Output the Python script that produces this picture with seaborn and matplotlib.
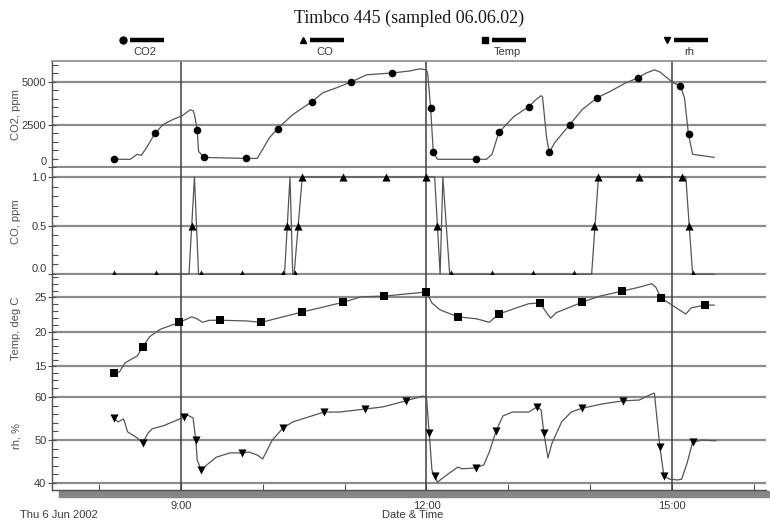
import numpy as np
import pandas as pd
import matplotlib
matplotlib.use("Agg")
import matplotlib.pyplot as plt
import matplotlib.ticker as mticker
from matplotlib.lines import Line2D
from matplotlib.patches import Rectangle
import seaborn as sns

# ---- CO2, ppm ----
co2_time = ["08:11", "08:23", "08:28", "08:31", "08:35", "08:41", "08:47", "08:54", "09:01", "09:07",
            "09:09", "09:10", "09:12", "09:13", "09:17", "09:48", "09:56", "10:05", "10:11", "10:22",
            "10:36", "10:44", "10:54", "11:05", "11:16", "11:26", "11:35", "11:48", "11:55", "12:00",
            "12:01", "12:03", "12:05", "12:08", "12:44", "12:48", "12:53", "12:57", "13:04", "13:15",
            "13:20", "13:24", "13:25", "13:28", "13:30", "13:34", "13:45", "13:54", "14:05", "14:14",
            "14:26", "14:35", "14:41", "14:47", "14:51", "14:58", "15:01", "15:06", "15:09", "15:12",
            "15:15", "15:31"]
co2_ppm = [470, 470, 760, 700, 1160, 1980, 2500, 2790, 3020, 3370,
           3310, 3080, 2210, 930, 580, 520, 520, 1740, 2270, 3080,
           3840, 4360, 4650, 5000, 5410, 5470, 5520, 5640, 5760, 5700,
           5410, 3490, 870, 470, 470, 760, 2040, 2380, 2970, 3550,
           3950, 4190, 4130, 1740, 870, 1450, 2500, 3370, 4070, 4420,
           4940, 5230, 5520, 5700, 5580, 5120, 4940, 4770, 4070, 1920,
           760, 580]
co2_mark_time = ["08:11", "08:41", "09:12", "09:17", "09:48", "10:11", "10:36", "11:05", "11:35", "12:03",
                 "12:05", "12:36", "12:53", "13:15", "13:30", "13:45", "14:05", "14:35", "15:06", "15:12"]
co2_mark_ppm = [470, 1980, 2210, 580, 520, 2270, 3840, 5000, 5520, 3490,
                870, 470, 2040, 3550, 870, 2500, 4070, 5230, 4770, 1920]

# ---- CO, ppm ----
co_time = ["08:11", "09:06", "09:10", "09:13", "10:16", "10:20", "10:22", "10:23", "10:29", "12:06",
           "12:10", "12:12", "12:17", "14:01", "14:06", "15:10", "15:15", "15:31"]
co_ppm = [0, 0, 1.0, 0, 0, 1.0, 0, 0, 1.0, 1.0,
          0, 1.0, 0, 0, 1.0, 1.0, 0, 0]
co_mark_time = ["08:11", "08:42", "09:08", "09:15", "09:45", "10:15", "10:18", "10:24", "10:26", "10:29",
                "10:59", "11:30", "12:00", "12:08", "12:18", "12:48", "13:18", "13:48", "14:03", "14:06",
                "14:36", "15:07", "15:12", "15:15"]
co_mark_ppm = [0, 0, 0.5, 0, 0, 0, 0.5, 0, 0.5, 1.0,
               1.0, 1.0, 1.0, 0.5, 0, 0, 0, 0, 0.5, 1.0,
               1.0, 1.0, 0.5, 0]

# ---- Temp, deg C ----
temp_time = ["08:11", "08:15", "08:19", "08:25", "08:28", "08:32", "08:37", "08:45", "08:52", "08:59",
             "09:08", "09:12", "09:16", "09:21", "09:29", "09:48", "09:59", "10:29", "10:59", "11:12",
             "11:29", "12:00", "12:04", "12:10", "12:23", "12:37", "12:46", "12:53", "13:06", "13:15",
             "13:23", "13:28", "13:31", "13:35", "13:54", "14:07", "14:23", "14:36", "14:45", "14:48",
             "14:52", "15:03", "15:10", "15:14", "15:24", "15:31"]
temp_c = [14.1, 14.2, 15.5, 16.2, 16.5, 17.8, 19.3, 20.4, 20.9, 21.4,
          22.2, 21.9, 21.4, 21.7, 21.7, 21.6, 21.4, 22.9, 24.3, 25.1,
          25.2, 25.8, 24.2, 23.2, 22.2, 21.9, 21.4, 22.6, 23.5, 24.1,
          24.2, 22.8, 22.0, 22.8, 24.3, 25.2, 25.9, 26.5, 27.0, 26.5,
          24.9, 23.5, 22.6, 23.5, 23.9, 23.9]
temp_mark_time = ["08:11", "08:32", "08:59", "09:29", "09:59", "10:29", "10:59", "11:29", "12:00", "12:23",
                  "12:53", "13:23", "13:54", "14:23", "14:52", "15:24"]
temp_mark_c = [14.1, 17.8, 21.4, 21.7, 21.4, 22.9, 24.3, 25.2, 25.8, 22.2,
               22.6, 24.2, 24.3, 25.9, 24.9, 23.9]

# ---- rh, % ----
rh_time = ["08:11", "08:14", "08:18", "08:19", "08:21", "08:28", "08:32", "08:36", "08:39", "08:47",
           "08:54", "09:02", "09:05", "09:09", "09:11", "09:12", "09:15", "09:19", "09:26", "09:36",
           "09:45", "09:50", "09:56", "10:00", "10:07", "10:15", "10:22", "10:45", "10:56", "11:15",
           "11:28", "11:45", "11:57", "12:00", "12:02", "12:04", "12:08", "12:15", "12:23", "12:26",
           "12:36", "12:42", "12:46", "12:51", "12:56", "13:03", "13:15", "13:21", "13:24", "13:26",
           "13:29", "13:32", "13:39", "13:46", "13:54", "14:09", "14:24", "14:36", "14:45", "14:47",
           "14:48", "14:51", "14:54", "14:58", "15:04", "15:07", "15:11", "15:15", "15:22", "15:32"]
rh_pct = [55.1, 54.2, 54.9, 54.0, 51.9, 50.5, 49.3, 51.6, 52.6, 53.3,
          54.2, 55.3, 55.8, 55.1, 50.0, 45.3, 43.0, 44.2, 46.0, 47.0,
          47.0, 47.2, 46.5, 45.6, 50.0, 52.8, 54.2, 56.5, 56.5, 57.2,
          57.7, 59.1, 60.2, 60.0, 51.6, 43.0, 40.2, 41.9, 43.7, 43.3,
          43.5, 44.2, 47.2, 52.1, 55.6, 56.5, 56.5, 57.7, 57.0, 51.6,
          45.8, 49.3, 54.2, 56.5, 57.4, 58.4, 59.1, 59.3, 60.7, 60.9,
          57.7, 48.4, 41.6, 40.9, 40.7, 40.9, 44.7, 49.5, 50.0, 49.8]
rh_mark_time = ["08:11", "08:32", "09:02", "09:11", "09:15", "09:45", "10:15", "10:45", "11:15", "11:45",
                "12:02", "12:06", "12:36", "12:51", "13:21", "13:26", "13:54", "14:24", "14:51", "14:54",
                "15:15"]
rh_mark_pct = [55.1, 49.3, 55.3, 50.0, 43.0, 47.0, 52.8, 56.5, 57.2, 59.1,
               51.6, 41.6, 43.5, 52.1, 57.7, 51.6, 57.4, 59.1, 48.4, 41.6,
               49.5]


def to_hours(ts):
    return [int(t[:2]) + int(t[3:]) / 60 for t in ts]


sns.set_theme(style="white")
plt.rcParams["font.family"] = ["Liberation Sans", "DejaVu Sans"]

fig = plt.figure(figsize=(7.7, 5.21), dpi=100)
W, H = 770, 521
left, right = 52 / W, 766 / W
bounds = [(61, 168), (168, 275), (275, 382), (382, 490)]
axes = [fig.add_axes([left, 1 - b / H, right - left, (b - t) / H]) for t, b in bounds]

panels = [
    (co2_time, co2_ppm, co2_mark_time, co2_mark_ppm, "o", 30, "CO2, ppm", (-40, 6220), 2500, 500),
    (co_time, co_ppm, co_mark_time, co_mark_ppm, "^", 34, "CO, ppm", (-0.008, 1.092), 0.5, 0.1),
    (temp_time, temp_c, temp_mark_time, temp_mark_c, "s", 28, "Temp, deg C", (12.75, 28.26), 5, 1),
    (rh_time, rh_pct, rh_mark_time, rh_mark_pct, "v", 34, "rh, %", (38.37, 63.49), 10, 2),
]
line_col = "#555555"
txt_col = "#3a3a3a"

for ax, (t, v, mt, mv, mk, ms, lab, ylim, major, minor) in zip(axes, panels):
    ax.set_facecolor("white")
    sns.lineplot(x=to_hours(t), y=v, ax=ax, color=line_col, lw=0.9,
                 estimator=None, sort=False, zorder=3)
    sns.scatterplot(x=to_hours(mt), y=mv, ax=ax, marker=mk, s=ms, color="black",
                    edgecolor="black", linewidth=0, zorder=4)
    ax.set_xlim(7.427, 16.146)
    ax.set_ylim(*ylim)
    ax.yaxis.set_major_locator(mticker.MultipleLocator(major))
    ax.yaxis.set_minor_locator(mticker.MultipleLocator(minor))
    ax.grid(axis="y", which="major", color="#8c8c8c", lw=1.6, zorder=1)
    ax.grid(axis="x", visible=False)
    for h in (9, 12, 15):
        ax.axvline(h, color="#404040", lw=1.1, zorder=2)
    for s in ("top", "right", "bottom"):
        ax.spines[s].set_visible(False)
    ax.spines["left"].set_color("#505050")
    ax.spines["left"].set_linewidth(1.0)
    ax.tick_params(axis="y", which="major", direction="inout", length=6, width=0.8,
                   colors="#505050", labelcolor=txt_col, labelsize=8, pad=1, left=True)
    ax.tick_params(axis="y", which="minor", direction="in", length=4, width=0.8,
                   colors="#505050", left=True)
    ax.set_ylabel(lab, fontsize=8, color="#505050")
    ax.yaxis.set_label_coords(-0.043, 0.5)
    ax.tick_params(axis="x", which="both", bottom=False, labelbottom=False)

axes[0].yaxis.set_major_formatter(mticker.FuncFormatter(lambda v, p: f"{v:.0f}"))
axes[1].yaxis.set_major_formatter(mticker.FuncFormatter(lambda v, p: f"{v:.1f}"))
axes[2].yaxis.set_major_formatter(mticker.FuncFormatter(lambda v, p: f"{v:.0f}"))
axes[3].yaxis.set_major_formatter(mticker.FuncFormatter(lambda v, p: f"{v:.0f}"))
fig.canvas.draw()
for ax in axes[:2]:
    for lbl in ax.get_yticklabels():
        if abs(lbl.get_position()[1]) < 1e-9:
            lbl.set_verticalalignment("bottom")

# top border line
axes[0].spines["top"].set_visible(True)
axes[0].spines["top"].set_color("#8c8c8c")
axes[0].spines["top"].set_linewidth(1.2)

# time axis at the bottom
ax = axes[3]
ax.spines["bottom"].set_visible(True)
ax.spines["bottom"].set_color("#505050")
ax.spines["bottom"].set_linewidth(1.0)
ax.xaxis.set_major_locator(mticker.FixedLocator([9, 12, 15]))
ax.xaxis.set_minor_locator(mticker.MultipleLocator(1))
ax.xaxis.set_major_formatter(mticker.FuncFormatter(lambda v, p: f"{int(round(v))}:00"))
ax.tick_params(axis="x", which="both", bottom=True, labelbottom=True, direction="in",
               length=4, width=0.8, colors="#505050", labelcolor=txt_col, labelsize=8, pad=8)
fig.add_artist(Rectangle((59 / W, 1 - 497 / H), (W - 59) / W, 6 / H,
                         transform=fig.transFigure, color="#858585", zorder=0))
fig.text(20 / W, 1 - 515 / H, "Thu 6 Jun 2002", fontsize=8, color=txt_col, va="center")
fig.text(413 / W, 1 - 515 / H, "Date & Time", fontsize=8, color=txt_col, va="center", ha="center")

# title and legend header
fig.text(409 / W, 1 - 18 / H, "Timbco 445 (sampled 06.06.02)", fontsize=13,
         family="Liberation Serif", color="#1a1a1a", ha="center", va="center")
leg_names = ["CO2", "CO", "Temp", "rh"]
leg_markers = ["o", "^", "s", "v"]
leg_x = [123, 303, 485, 667]
for name, mk, x0 in zip(leg_names, leg_markers, leg_x):
    fig.add_artist(Line2D([x0 / W], [1 - 40 / H], marker=mk, ms=5, color="black", lw=0,
                          transform=fig.transFigure))
    fig.add_artist(Line2D([(x0 + 7) / W, (x0 + 41) / W], [1 - 40 / H, 1 - 40 / H],
                          color="black", lw=3.2, solid_capstyle="butt", transform=fig.transFigure))
    fig.text((x0 + 22) / W, 1 - 52 / H, name, fontsize=8, color=txt_col, ha="center", va="center")

fig.savefig("out.png", dpi=100)
